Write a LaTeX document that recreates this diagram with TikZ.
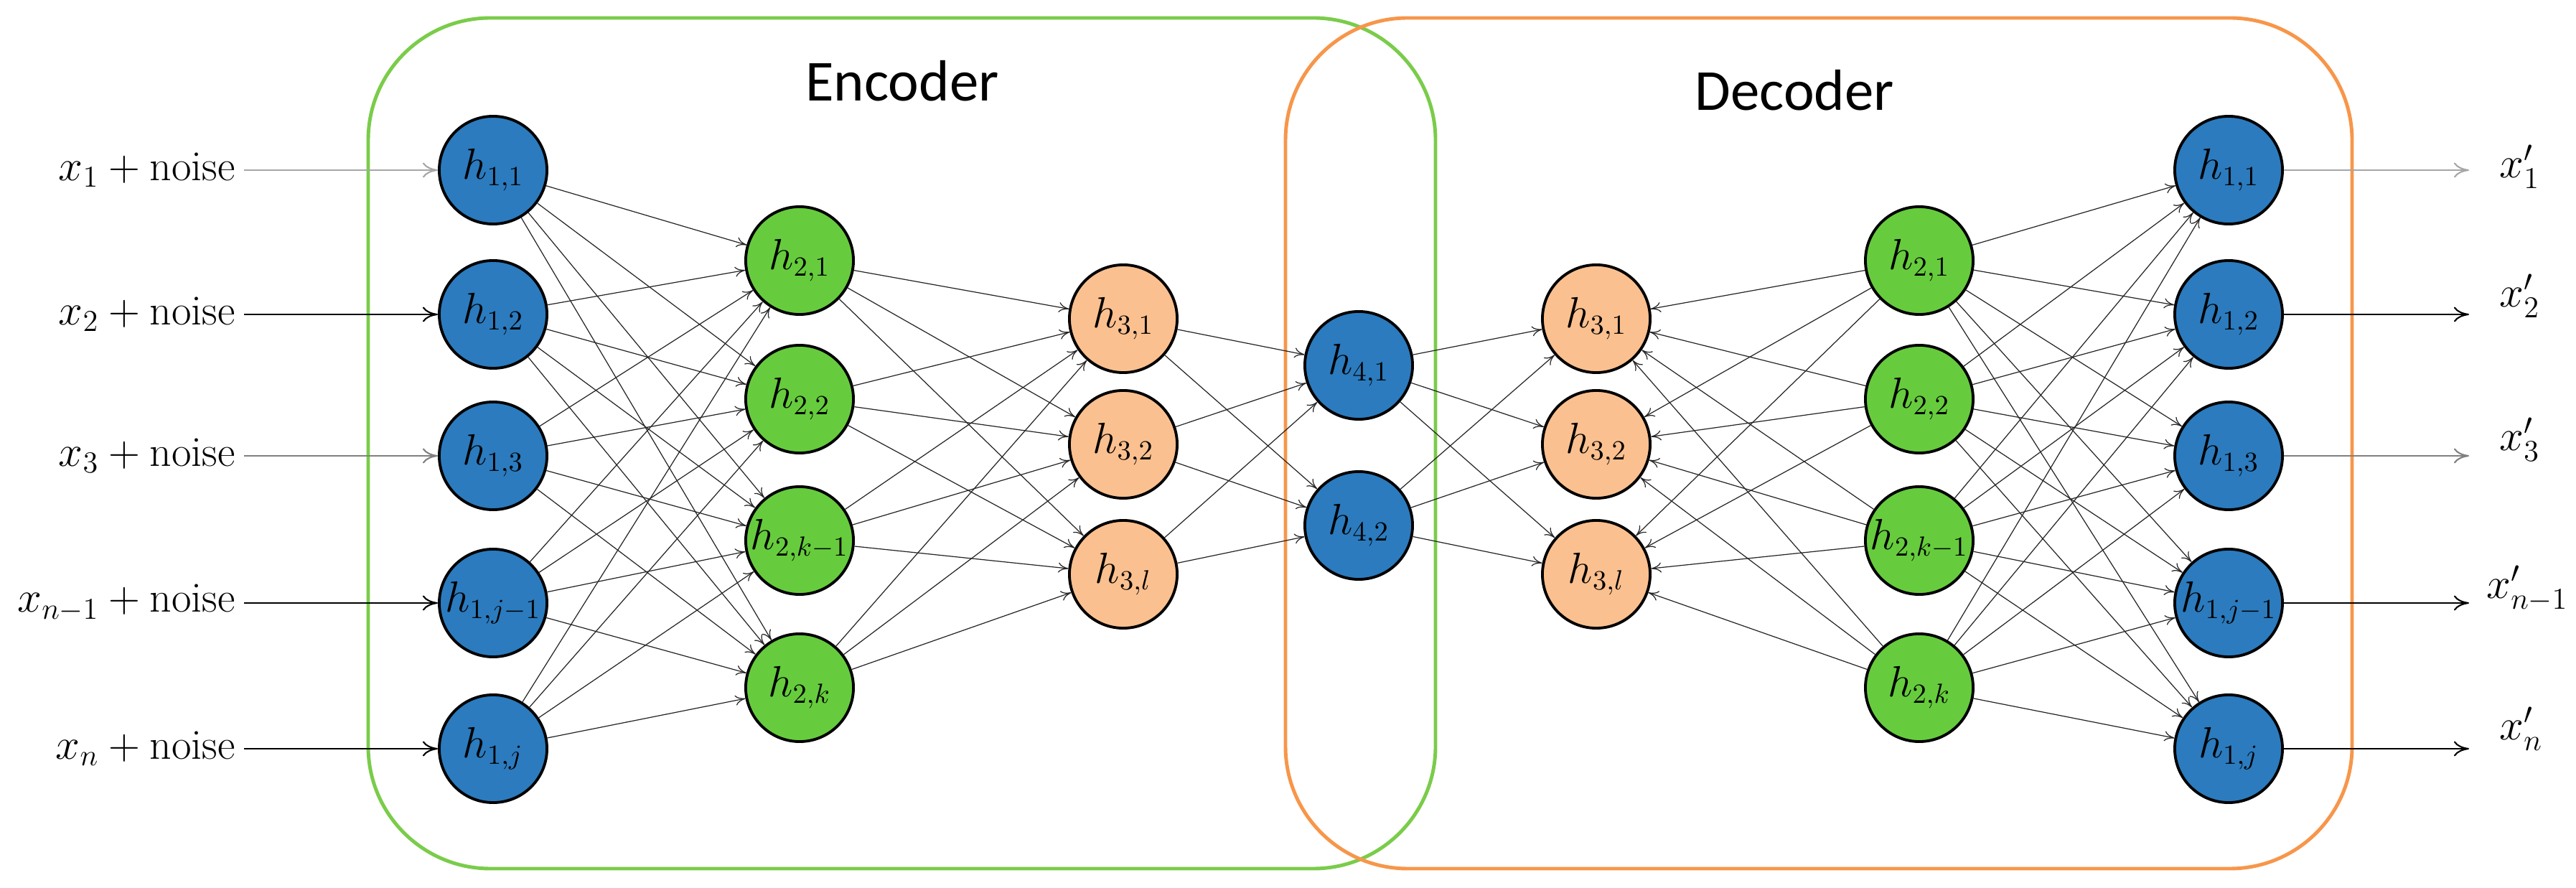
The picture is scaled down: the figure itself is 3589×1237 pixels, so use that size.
\documentclass[tikz,border=0pt]{standalone}
\usepackage{fontspec}
\newfontfamily\sansf{Carlito}
\usetikzlibrary{arrows.meta}
\definecolor{nblue}{HTML}{2B7BBE}
\definecolor{ngreen}{HTML}{66CC3D}
\definecolor{norange}{HTML}{FBC08F}
\definecolor{bgreen}{HTML}{7ACC4A}
\definecolor{borange}{HTML}{F7964A}
\begin{document}
\begin{tikzpicture}[x=0.01cm,y=-0.01cm,
  neu/.style={circle,draw=black,line width=1.1pt,minimum size=1.5cm,inner sep=0pt,font=\fontsize{16}{18}\selectfont},
  bl/.style={neu,fill=nblue},gr/.style={neu,fill=ngreen},orr/.style={neu,fill=norange},
  con/.style={draw=black!85,line width=0.35pt,-{To[length=4pt,width=4pt]}},
  io/.style={line width=0.6pt,-{To[length=6pt,width=6pt]}},
  lab/.style={font=\fontsize{17}{19}\selectfont}]
\useasboundingbox (0,0) rectangle (3589,1237);
\draw[bgreen,line width=1.4pt,rounded corners=1.7cm] (513,25) rectangle (2000,1210);
\draw[borange,line width=1.4pt,rounded corners=1.7cm] (1791,25) rectangle (3277,1210);
\node[font=\sansf\fontsize{23}{26}\selectfont] (enc) at (1257,113) {Encoder};
\node[font=\sansf\fontsize{23}{26}\selectfont] (dec) at (2500,126) {Decoder};
% encoder
\node[bl] (a1) at (687,237) {$h_{1,1}$};
\node[bl] (a2) at (687,438) {$h_{1,2}$};
\node[bl] (a3) at (687,635) {$h_{1,3}$};
\node[bl] (a4) at (687,840) {$h_{1,j-1}$};
\node[bl] (a5) at (687,1043) {$h_{1,j}$};
\node[gr] (b1) at (1114,363) {$h_{2,1}$};
\node[gr] (b2) at (1114,556) {$h_{2,2}$};
\node[gr] (b3) at (1114,753) {$h_{2,k-1}$};
\node[gr] (b4) at (1114,958) {$h_{2,k}$};
\node[orr] (c1) at (1565,444) {$h_{3,1}$};
\node[orr] (c2) at (1565,619) {$h_{3,2}$};
\node[orr] (c3) at (1565,800) {$h_{3,l}$};
\node[bl] (m1) at (1893,509) {$h_{4,1}$};
\node[bl] (m2) at (1893,732) {$h_{4,2}$};
% decoder
\node[orr] (d1) at (2224,444) {$h_{3,1}$};
\node[orr] (d2) at (2224,619) {$h_{3,2}$};
\node[orr] (d3) at (2224,800) {$h_{3,l}$};
\node[gr] (e1) at (2674,363) {$h_{2,1}$};
\node[gr] (e2) at (2674,556) {$h_{2,2}$};
\node[gr] (e3) at (2674,753) {$h_{2,k-1}$};
\node[gr] (e4) at (2674,958) {$h_{2,k}$};
\node[bl] (f1) at (3105,237) {$h_{1,1}$};
\node[bl] (f2) at (3105,438) {$h_{1,2}$};
\node[bl] (f3) at (3105,635) {$h_{1,3}$};
\node[bl] (f4) at (3105,840) {$h_{1,j-1}$};
\node[bl] (f5) at (3105,1043) {$h_{1,j}$};
% connections
\foreach \i in {1,...,5}{\foreach \j in {1,...,4}{\draw[con] (a\i) -- (b\j); \draw[con] (e\j) -- (f\i);}}
\foreach \i in {1,...,4}{\foreach \j in {1,...,3}{\draw[con] (b\i) -- (c\j); \draw[con] (e\i) -- (d\j);}}
\foreach \i in {1,...,3}{\foreach \j in {1,2}{\draw[con] (c\i) -- (m\j); \draw[con] (m\j) -- (d\i);}}
% inputs
\node[lab,anchor=east] (i1) at (340,237) {$x_1+\mathrm{noise}$};
\node[lab,anchor=east] (i2) at (340,438) {$x_2+\mathrm{noise}$};
\node[lab,anchor=east] (i3) at (340,635) {$x_3+\mathrm{noise}$};
\node[lab,anchor=east] (i4) at (340,840) {$x_{n-1}+\mathrm{noise}$};
\node[lab,anchor=east] (i5) at (340,1043) {$x_n+\mathrm{noise}$};
\draw[io,black!35] (i1) -- (a1);
\draw[io] (i2) -- (a2);
\draw[io,black!50] (i3) -- (a3);
\draw[io] (i4) -- (a4);
\draw[io] (i5) -- (a5);
\coordinate (o1) at (3440,237);\coordinate (o2) at (3440,438);\coordinate (o3) at (3440,635);\coordinate (o4) at (3440,840);\coordinate (o5) at (3440,1043);
\draw[io,black!35] (f1) -- (o1);
\draw[io] (f2) -- (o2);
\draw[io,black!50] (f3) -- (o3);
\draw[io] (f4) -- (o4);
\draw[io] (f5) -- (o5);
\node[lab,anchor=west] (x1) at (3470,232) {$x'_1$};
\node[lab,anchor=west] (x2) at (3470,412) {$x'_2$};
\node[lab,anchor=west] (x3) at (3470,612) {$x'_3$};
\node[lab,anchor=west] (x4) at (3452,820) {$x'_{n-1}$};
\node[lab,anchor=west] (x5) at (3470,1015) {$x'_n$};
\end{tikzpicture}
\end{document}
